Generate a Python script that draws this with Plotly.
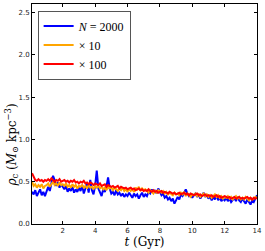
import numpy as np
import plotly.graph_objects as go

T_STEP = 0.1
t = np.round(np.arange(1, 141) * T_STEP, 1)

rho_n2000 = [
    0.38, 0.35, 0.40, 0.33, 0.37, 0.41, 0.34, 0.38, 0.33, 0.40,
    0.44, 0.39, 0.50, 0.57, 0.52, 0.45, 0.49, 0.43, 0.47, 0.44,
    0.41, 0.45, 0.38, 0.42, 0.39, 0.44, 0.37, 0.41, 0.38, 0.43,
    0.39, 0.46, 0.36, 0.42, 0.48, 0.37, 0.52, 0.40, 0.35, 0.45,
    0.63, 0.42, 0.37, 0.33, 0.41, 0.38, 0.44, 0.55, 0.42, 0.36,
    0.38, 0.34, 0.40, 0.35, 0.37, 0.33, 0.36, 0.32, 0.35, 0.33,
    0.37, 0.34, 0.31, 0.36, 0.33, 0.35, 0.30, 0.34, 0.37, 0.32,
    0.35, 0.33, 0.38, 0.36, 0.41, 0.37, 0.40, 0.36, 0.42, 0.38,
    0.34, 0.36, 0.31, 0.33, 0.29, 0.31, 0.27, 0.30, 0.24, 0.28,
    0.32, 0.29, 0.35, 0.33, 0.38, 0.41, 0.36, 0.33, 0.35, 0.31,
    0.34, 0.36, 0.32, 0.35, 0.30, 0.33, 0.37, 0.32, 0.35, 0.30,
    0.33, 0.28, 0.32, 0.29, 0.34, 0.28, 0.31, 0.27, 0.30, 0.28,
    0.31, 0.27, 0.30, 0.26, 0.29, 0.31, 0.27, 0.32, 0.28, 0.26,
    0.30, 0.27, 0.24, 0.29, 0.26, 0.23, 0.28, 0.26, 0.30, 0.34,
]

rho_x10 = [
    0.50, 0.45, 0.47, 0.43, 0.46, 0.44, 0.47, 0.42, 0.45, 0.46,
    0.48, 0.44, 0.47, 0.50, 0.46, 0.48, 0.45, 0.49, 0.46, 0.47,
    0.45, 0.48, 0.44, 0.46, 0.43, 0.47, 0.44, 0.46, 0.42, 0.45,
    0.44, 0.46, 0.43, 0.45, 0.42, 0.46, 0.43, 0.44, 0.41, 0.45,
    0.43, 0.45, 0.42, 0.44, 0.41, 0.43, 0.40, 0.44, 0.42, 0.43,
    0.40, 0.43, 0.41, 0.39, 0.42, 0.40, 0.43, 0.39, 0.41, 0.38,
    0.42, 0.39, 0.41, 0.38, 0.43, 0.40, 0.44, 0.39, 0.42, 0.40,
    0.41, 0.39, 0.37, 0.40, 0.38, 0.36, 0.39, 0.37, 0.40, 0.38,
    0.37, 0.39, 0.36, 0.38, 0.35, 0.37, 0.36, 0.34, 0.37, 0.35,
    0.36, 0.34, 0.37, 0.35, 0.38, 0.33, 0.36, 0.34, 0.32, 0.35,
    0.34, 0.36, 0.33, 0.35, 0.32, 0.34, 0.36, 0.33, 0.35, 0.32,
    0.34, 0.31, 0.33, 0.35, 0.32, 0.34, 0.31, 0.33, 0.30, 0.32,
    0.31, 0.33, 0.30, 0.32, 0.29, 0.31, 0.33, 0.30, 0.32, 0.29,
    0.31, 0.29, 0.32, 0.30, 0.28, 0.31, 0.29, 0.30, 0.32, 0.31,
]

rho_x100 = [
    0.60, 0.55, 0.52, 0.51, 0.53, 0.51, 0.52, 0.50, 0.52, 0.51,
    0.53, 0.51, 0.54, 0.52, 0.50, 0.52, 0.51, 0.53, 0.50, 0.51,
    0.52, 0.50, 0.51, 0.49, 0.51, 0.50, 0.52, 0.49, 0.50, 0.48,
    0.50, 0.49, 0.51, 0.48, 0.49, 0.47, 0.49, 0.48, 0.46, 0.48,
    0.47, 0.46, 0.48, 0.45, 0.46, 0.47, 0.44, 0.46, 0.45, 0.44,
    0.45, 0.43, 0.44, 0.45, 0.42, 0.44, 0.43, 0.42, 0.43, 0.41,
    0.42, 0.43, 0.41, 0.42, 0.40, 0.41, 0.42, 0.40, 0.41, 0.39,
    0.40, 0.39, 0.41, 0.39, 0.38, 0.40, 0.38, 0.39, 0.37, 0.38,
    0.39, 0.37, 0.38, 0.37, 0.36, 0.38, 0.37, 0.36, 0.37, 0.35,
    0.36, 0.37, 0.35, 0.36, 0.37, 0.35, 0.36, 0.34, 0.36, 0.35,
    0.34, 0.35, 0.36, 0.34, 0.35, 0.33, 0.34, 0.35, 0.33, 0.34,
    0.33, 0.34, 0.32, 0.33, 0.34, 0.32, 0.33, 0.31, 0.32, 0.33,
    0.32, 0.31, 0.32, 0.30, 0.31, 0.32, 0.30, 0.31, 0.32, 0.30,
    0.31, 0.30, 0.31, 0.32, 0.30, 0.31, 0.29, 0.31, 0.30, 0.31,
]

series_names = ["<i>N</i> = 2000", "× 10", "× 100"]
series_values = [rho_n2000, rho_x10, rho_x100]
series_colors = ["#0000ff", "#ffa500", "#ff0000"]

x_ticks = [2, 4, 6, 8, 10, 12, 14]
y_ticks = [0.0, 0.5, 1.0, 1.5, 2.0, 2.5]

fig = go.Figure()
for name, vals, col in zip(series_names, series_values, series_colors):
    fig.add_trace(go.Scatter(x=t, y=vals, mode="lines", name=name,
                             line=dict(color=col, width=2)))

axis_common = dict(showline=True, linecolor="black", linewidth=1, mirror="ticks",
                   ticks="inside", ticklen=3, tickcolor="black", showgrid=False,
                   zeroline=False, tickfont=dict(family="DejaVu Sans", size=7, color="#222"))

fig.update_xaxes(range=[0.1, 14.0], tickvals=x_ticks, ticktext=[str(v) for v in x_ticks],
                 title=dict(text="<i>t</i> (Gyr)", font=dict(family="DejaVu Serif", size=12, color="black"),
                            standoff=2),
                 **axis_common)
fig.update_yaxes(range=[0, 2.6], tickvals=y_ticks, ticktext=[f"{v:.1f}" for v in y_ticks],
                 **axis_common)

fig.add_annotation(text="<i>ρ</i><sub>c</sub> (<i>M</i><sub>⊙</sub> kpc<sup>−3</sup>)",
                   xref="paper", yref="paper", x=-0.09, y=0.36, xanchor="center", yanchor="middle",
                   textangle=-90, showarrow=False,
                   font=dict(family="DejaVu Serif", size=12, color="black"))

fig.update_layout(
    width=265, height=251,
    margin=dict(l=32, r=8, t=4, b=27),
    paper_bgcolor="white", plot_bgcolor="white",
    showlegend=True,
    legend=dict(x=0.025, y=0.97, xanchor="left", yanchor="top",
                bgcolor="white", bordercolor="#555", borderwidth=1,
                font=dict(family="Liberation Serif", size=12, color="black"),
                itemwidth=30, valign="middle"),
)

fig.write_html("out.html", config={"displayModeBar": False},
               post_script="document.body.style.margin='0';")
